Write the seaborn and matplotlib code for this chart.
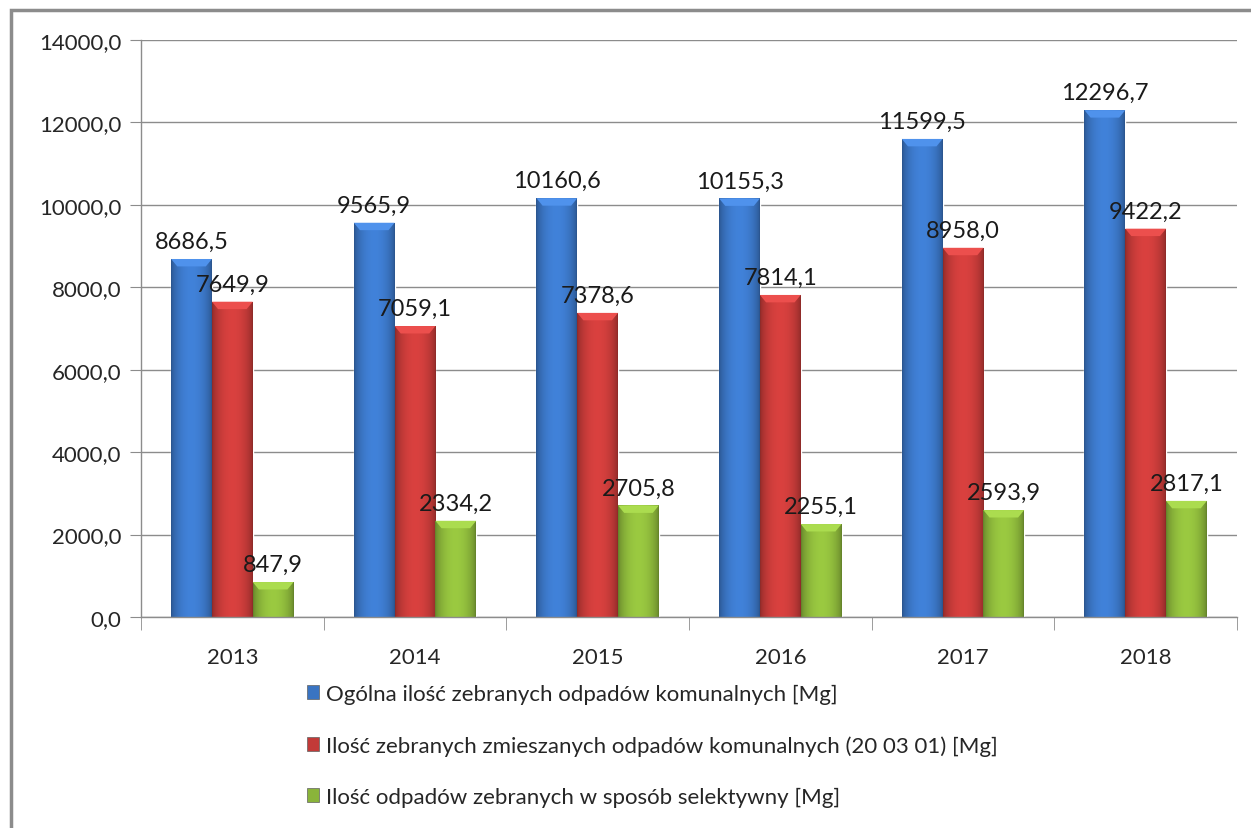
import numpy as np
import pandas as pd
import seaborn as sns
import matplotlib.pyplot as plt
from matplotlib.patches import Rectangle
from matplotlib.colors import to_rgb

years = ["2013", "2014", "2015", "2016", "2017", "2018"]
ogolna = [8686.5, 9565.9, 10160.6, 10155.3, 11599.5, 12296.7]
zmieszane = [7649.9, 7059.1, 7378.6, 7814.1, 8958.0, 9422.2]
selektywne = [847.9, 2334.2, 2705.8, 2255.1, 2593.9, 2817.1]
series = [
    "Ogólna ilość zebranych odpadów komunalnych [Mg]",
    "Ilość zebranych zmieszanych odpadów komunalnych (20 03 01) [Mg]",
    "Ilość odpadów zebranych w sposób selektywny [Mg]",
]
colors = ["#3a74c2", "#c23a38", "#8ab43a"]

df = pd.DataFrame({
    "rok": years * 3,
    "seria": np.repeat(series, len(years)),
    "wartosc": ogolna + zmieszane + selektywne,
})

sns.set_style("white")
plt.rcParams["font.family"] = ["Lato", "DejaVu Sans"]

fig = plt.figure(figsize=(12.51, 8.29), dpi=100)
ax = fig.add_axes([141 / 1251, 1 - 618 / 829, (1237 - 141) / 1251, (618 - 41) / 829])

sns.barplot(data=df, x="rok", y="wartosc", hue="seria", palette=colors,
            width=0.67, ax=ax, legend=False, saturation=1)

ax.set_ylim(0, 14000)
ax.set_xlim(-0.5, len(years) - 0.5)
ax.set_yticks(np.arange(0, 14001, 2000))
ax.set_yticklabels([f"{v:.1f}".replace(".", ",") for v in np.arange(0, 14001, 2000)], fontsize=16)
ax.yaxis.grid(True, color="#8c8c8c", lw=1)
ax.set_axisbelow(True)
ax.set_xlabel("")
ax.set_ylabel("")
for s in ["top", "right"]:
    ax.spines[s].set_visible(False)
for s in ["left", "bottom"]:
    ax.spines[s].set_color("#8c8c8c")
    ax.spines[s].set_linewidth(1)
ax.tick_params(axis="y", left=True, length=8, color="#8c8c8c", pad=6)
ax.tick_params(axis="x", bottom=False, labelsize=16, pad=18)
# category boundary ticks
ax.set_xticks(np.arange(-0.5, len(years)), minor=True)
ax.tick_params(axis="x", which="minor", bottom=True, length=9, color="#8c8c8c")

# shading for a 3D-like look
for cont, col in zip(ax.containers, colors):
    base = np.array(to_rgb(col))
    t = np.linspace(0, 1, 64)
    shade = 0.72 + 0.4 * np.sin(np.pi * t) ** 0.6
    grad = np.clip(base[None, :] * shade[:, None], 0, 1)[None, :, :]
    for p in cont.patches:
        x0, y0 = p.get_x(), p.get_y()
        w, h = p.get_width(), p.get_height()
        im = ax.imshow(grad, extent=[x0, x0 + w, y0, y0 + h], aspect="auto",
                       zorder=p.get_zorder() + 0.1, interpolation="bilinear")
        im.set_clip_path(p)
        top = np.clip(base * 1.15 + 0.05, 0, 1)
        ax.fill([x0, x0 + w, x0 + w * 0.85, x0 + w * 0.15],
                [y0 + h, y0 + h, y0 + h - 180, y0 + h - 180],
                color=top, zorder=p.get_zorder() + 0.2, lw=0)
    ax.bar_label(cont, labels=[f"{v:.1f}".replace(".", ",") for v in cont.datavalues],
                 fontsize=17, padding=5, color="#1a1a1a")

ax.set_xlim(-0.5, len(years) - 0.5)
ax.set_ylim(0, 14000)

handles = [Rectangle((0, 0), 1, 1, facecolor=c, edgecolor="#606060", lw=0.5) for c in colors]
fig.legend(handles, series, loc="upper left", bbox_to_anchor=(298 / 1251, 1 - 676 / 829),
           frameon=False, fontsize=16, handlelength=0.55, handleheight=0.55,
           handletextpad=0.3, labelspacing=1.4, borderaxespad=0)

fig.add_artist(Rectangle((11 / 1251, -0.1), 2, 1 - 11 / 829 + 0.1, transform=fig.transFigure,
                         fill=False, edgecolor="#8c8c8c", lw=2.5))

fig.savefig("out.png", dpi=100)
